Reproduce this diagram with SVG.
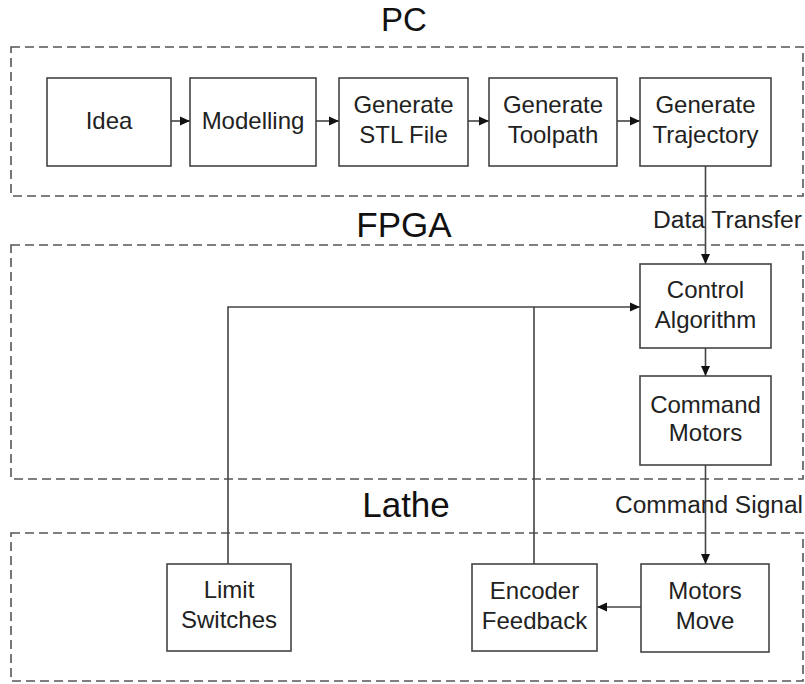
<svg xmlns="http://www.w3.org/2000/svg" width="805" height="684" viewBox="0 0 805 684">
<defs>
<style>
.grp{fill:none;stroke:#555;stroke-width:1.6;stroke-dasharray:9 5}
.box{fill:#fff;stroke:#444;stroke-width:1.6}
.t{font-family:"Liberation Sans",Arial,sans-serif;font-size:24px;fill:#222;text-anchor:middle}
.title{font-family:"Liberation Sans",Arial,sans-serif;font-size:35px;fill:#111;text-anchor:middle}
.lbl{font-family:"Liberation Sans",Arial,sans-serif;font-size:23px;fill:#222}
.c{fill:none;stroke:#444;stroke-width:1.6}
</style>
<marker id="ah" viewBox="0 0 10 10" refX="10" refY="5" markerWidth="10" markerHeight="10" markerUnits="userSpaceOnUse" orient="auto">
<path d="M0,0.5 L10,5 L0,9.5 z" fill="#111"/>
</marker>
</defs>
<rect width="805" height="684" fill="#fff"/>

<g id="groups">
<rect class="grp" x="11" y="47" width="792" height="149"/>
<rect class="grp" x="11" y="245" width="792" height="234"/>
<rect class="grp" x="11" y="533" width="792" height="148"/>
<text class="title" x="404" y="31" style="font-size:33px">PC</text>
<text class="title" x="404" y="237">FPGA</text>
<text class="title" x="406" y="517">Lathe</text>
</g>

<g id="connectors">
<line class="c" x1="171" y1="121" x2="190" y2="121" marker-end="url(#ah)"/>
<line class="c" x1="316" y1="121" x2="339" y2="121" marker-end="url(#ah)"/>
<line class="c" x1="468" y1="121" x2="489" y2="121" marker-end="url(#ah)"/>
<line class="c" x1="617" y1="121" x2="640" y2="121" marker-end="url(#ah)"/>
<line class="c" x1="705.5" y1="166" x2="705.5" y2="264" marker-end="url(#ah)"/>
<line class="c" x1="705.5" y1="348" x2="705.5" y2="376" marker-end="url(#ah)"/>
<line class="c" x1="705.5" y1="465" x2="705.5" y2="564" marker-end="url(#ah)"/>
<line class="c" x1="641" y1="607" x2="597" y2="607" marker-end="url(#ah)"/>
<polyline class="c" points="228,564 228,307 640,307" marker-end="url(#ah)"/>
<line class="c" x1="534" y1="564" x2="534" y2="307"/>
<text class="lbl" x="653" y="228" textLength="149" lengthAdjust="spacingAndGlyphs">Data Transfer</text>
<text class="lbl" x="615" y="513" textLength="188" lengthAdjust="spacingAndGlyphs">Command Signal</text>
</g>

<g id="idea">
<rect class="box" x="47" y="78" width="124" height="88"/>
<text class="t" x="109" y="129">Idea</text>
</g>
<g id="modelling">
<rect class="box" x="190" y="78" width="126" height="88"/>
<text class="t" x="253" y="129">Modelling</text>
</g>
<g id="stl">
<rect class="box" x="339" y="78" width="129" height="88"/>
<text class="t" x="403.5" y="113">Generate</text>
<text class="t" x="403.5" y="143">STL File</text>
</g>
<g id="toolpath">
<rect class="box" x="489" y="78" width="128" height="88"/>
<text class="t" x="553" y="113">Generate</text>
<text class="t" x="553" y="143">Toolpath</text>
</g>
<g id="trajectory">
<rect class="box" x="640" y="78" width="131" height="88"/>
<text class="t" x="705.5" y="113">Generate</text>
<text class="t" x="705.5" y="143">Trajectory</text>
</g>
<g id="control">
<rect class="box" x="640" y="264" width="131" height="84"/>
<text class="t" x="705.5" y="298">Control</text>
<text class="t" x="705.5" y="328">Algorithm</text>
</g>
<g id="command">
<rect class="box" x="640" y="376" width="131" height="89"/>
<text class="t" x="705.5" y="413">Command</text>
<text class="t" x="705.5" y="441">Motors</text>
</g>
<g id="limit">
<rect class="box" x="167" y="564" width="124" height="87"/>
<text class="t" x="229" y="598">Limit</text>
<text class="t" x="229" y="628">Switches</text>
</g>
<g id="encoder">
<rect class="box" x="472" y="564" width="125" height="87"/>
<text class="t" x="534.5" y="599">Encoder</text>
<text class="t" x="534.5" y="629">Feedback</text>
</g>
<g id="motors">
<rect class="box" x="641" y="564" width="128" height="88"/>
<text class="t" x="705" y="599">Motors</text>
<text class="t" x="705" y="629">Move</text>
</g>
</svg>
